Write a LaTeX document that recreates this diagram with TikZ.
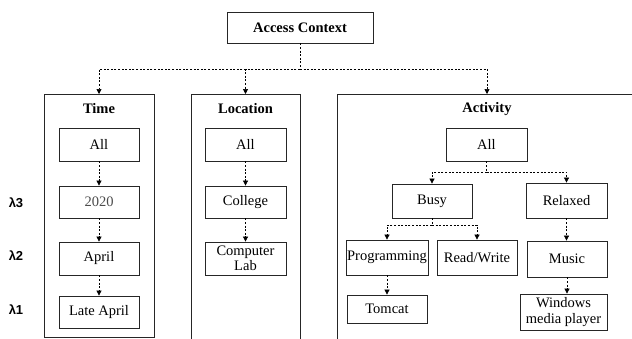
\documentclass[tikz,border=0pt]{standalone}
\usepackage{fontspec}
\setmainfont{Liberation Serif}
\newfontfamily\lsans{Liberation Sans}
\usetikzlibrary{arrows.meta}
\begin{document}
\begin{tikzpicture}[x=1pt,y=-1pt,
  every node/.style={font=\fontsize{14.5}{15.5}\selectfont},
  bx/.style={draw=black!85,line width=0.8pt,minimum width=#1,inner sep=0pt,align=center},
  bx/.default=80,
  ttl/.style={font=\fontsize{14.5}{15.5}\selectfont\bfseries},
  lam/.style={font=\fontsize{13}{14}\selectfont\lsans\bfseries},
  dl/.style={line width=0.7pt,dash pattern=on 2pt off 1.6pt,-{Triangle[width=5pt,length=5pt]}},
  dn/.style={line width=0.7pt,dash pattern=on 2pt off 1.6pt},
  pan/.style={draw=black!85,line width=0.8pt}]
\useasboundingbox (0,0) rectangle (632,338);
% top
\node[bx=146,minimum height=31,font=\fontsize{14.5}{15.5}\selectfont\bfseries] (ac) at (300,27.5) {Access Context};
% panels
\draw[pan] (44,94) rectangle (154,337);
\draw[pan] (191,340) -- (191,94) -- (300,94) -- (300,340);
\draw[pan] (337,340) -- (337,94) -- (640,94);
\coordinate (timep) at (99,94);
\coordinate (locp) at (245.5,94);
\coordinate (actp) at (487,94);
\coordinate (acj) at (300,69);
\node[ttl] (tt) at (99,109) {Time};
\node[ttl] (lt) at (245.5,109) {Location};
\node[ttl] (at) at (487,109) {Activity};
\draw[dn] (ac.south) -- (acj);
\draw[dl] (acj) -| (timep);
\draw[dl] (acj) -| (locp);
\draw[dl] (acj) -| (actp);
% lambdas
\node[lam] (l3) at (16,203) {λ3};
\node[lam] (l2) at (16,256) {λ2};
\node[lam] (l1) at (16,310) {λ1};
% time
\node[bx,minimum height=33] (t0) at (99,144.5) {All};
\node[bx,minimum height=32,text=black!70] (t1) at (99,202) {2020};
\node[bx,minimum height=33] (t2) at (99,258.5) {April};
\node[bx,minimum height=32] (t3) at (99,312) {Late April};
\draw[dl] (t0) -- (t1);
\draw[dl] (t1) -- (t2);
\draw[dl] (t2) -- (t3);
% location
\node[bx=81,minimum height=33] (c0) at (245.5,144.5) {All};
\node[bx=81,minimum height=32] (c1) at (245.5,202) {College};
\node[bx=81,minimum height=33] (c2) at (245.5,258.5) {Computer\\Lab};
\draw[dl] (c0) -- (c1);
\draw[dl] (c1) -- (c2);
% activity
\node[bx=81,minimum height=33] (a0) at (486.5,144.5) {All};
\node[bx,minimum height=34] (busy) at (432,201) {Busy};
\node[bx=81,minimum height=35] (rel) at (566.5,200.5) {Relaxed};
\node[bx=82,minimum height=35] (prog) at (387,257.5) {Programming};
\node[bx,minimum height=35] (rw) at (477,257.5) {Read/Write};
\node[bx,minimum height=36] (mus) at (567,259) {Music};
\node[bx,minimum height=28] (tom) at (387,309) {Tomcat};
\node[bx=87,minimum height=36] (wmp) at (563.5,312) {Windows\\media player};
\coordinate (aj) at (486.5,172);
\coordinate (bj) at (432,225);
\draw[dn] (a0.south) -- (aj);
\draw[dl] (aj) -| (busy.north);
\draw[dl] (aj) -| (rel.north);
\draw[dn] (busy.south) -- (bj);
\draw[dl] (bj) -| (prog.north);
\draw[dl] (bj) -| (rw.north);
\draw[dl] (rel.south) -- (rel.south |- mus.north);
\draw[dl] (prog.south) -- (tom.north);
\draw[dl] (mus.south) -- (mus.south |- wmp.north);
\end{tikzpicture}
\end{document}
